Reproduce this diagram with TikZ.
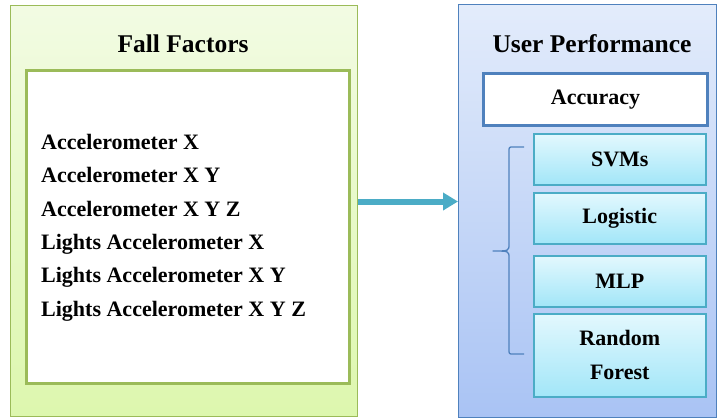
\documentclass[tikz,border=0pt]{standalone}
\usepackage{fontspec}
\setmainfont{Liberation Serif}
\usepackage{tikz}
\usetikzlibrary{arrows.meta,shadows}

\definecolor{leafgreen}{HTML}{9BBB59}
\definecolor{paleleaf}{HTML}{F2FBE3}
\definecolor{limeleaf}{HTML}{DDF7AE}
\definecolor{steelblue}{HTML}{4F81BD}
\definecolor{paleblue}{HTML}{E3ECFB}
\definecolor{skyblue}{HTML}{A9C3F4}
\definecolor{arrowteal}{HTML}{4BACC6}
\definecolor{paleaqua}{HTML}{E3F8FE}
\definecolor{aqua}{HTML}{A2E6F8}

\tikzset{
  panel/.style={draw, line width=1pt, anchor=north west, inner sep=0pt},
  method/.style={draw=arrowteal, line width=1.5pt, anchor=north west, inner sep=0pt,
    top color=paleaqua, bottom color=aqua, minimum width=172pt,
    drop shadow={shadow xshift=1pt, shadow yshift=-1.5pt, opacity=0.25},
    align=center, font=\bfseries\fontsize{22}{34}\selectfont},
  title/.style={font=\bfseries\fontsize{25.5}{28}\selectfont}
}

\begin{document}
\begin{tikzpicture}[x=1pt,y=-1pt]
  \useasboundingbox (0,0) rectangle (717,418);

  % left panel
  \node[panel, draw=leafgreen, top color=paleleaf, bottom color=limeleaf,
        minimum width=347pt, minimum height=411pt] (fallbox) at (10,5) {};
  \node[title] (falltitle) at (183,44) {Fall Factors};
  \node[panel, draw=leafgreen, line width=3pt, fill=white,
        minimum width=323pt, minimum height=313pt] (factorbox) at (25,69) {};
  \foreach \n/\y/\t in {
     1/149/Accelerometer X, 2/182/Accelerometer X Y, 3/216/Accelerometer X Y Z,
     4/249/Lights Accelerometer X, 5/282/Lights Accelerometer X Y,
     6/316/Lights Accelerometer X Y Z
     } {
      \node[anchor=base west, inner sep=0pt, font=\bfseries\fontsize{22}{24}\selectfont]
        (factor\n) at (41,\y) {\t};
     }

  % right panel
  \node[panel, draw=steelblue, top color=paleblue, bottom color=skyblue,
        minimum width=258pt, minimum height=413pt] (userbox) at (458,4) {};
  \node[title] (usertitle) at (592,44) {User Performance};
  \node[panel, draw=steelblue, line width=3pt, fill=white,
        minimum width=224pt, minimum height=52pt,
        font=\bfseries\fontsize{22}{24}\selectfont] (accuracy) at (482,72) {Accuracy};

  \foreach \n/\y/\t in {svm/133/SVMs, logit/192/Logistic, mlp/255/MLP} {
      \node[method, minimum height=51pt] (\n) at (533,\y) {\t};
     }
  \node[method, minimum height=83pt] (forest) at (533,313) {Random\\Forest};

  % brace
  \draw[steelblue, line width=1.3pt, line join=round]
    (524,147) -- (513,147) .. controls (509,147) .. (509,152) -- (509,244)
    .. controls (509,251) .. (493,251) .. controls (509,251) .. (509,258)
    -- (509,349) .. controls (509,354) .. (513,354) -- (524,354);

  % arrow
  \draw[arrowteal, line width=6pt, -{Triangle[length=15pt,width=17pt]}]
    ([yshift=9.5pt]fallbox.east) -- ([yshift=9.5pt]fallbox.east -| userbox.west);
\end{tikzpicture}
\end{document}
